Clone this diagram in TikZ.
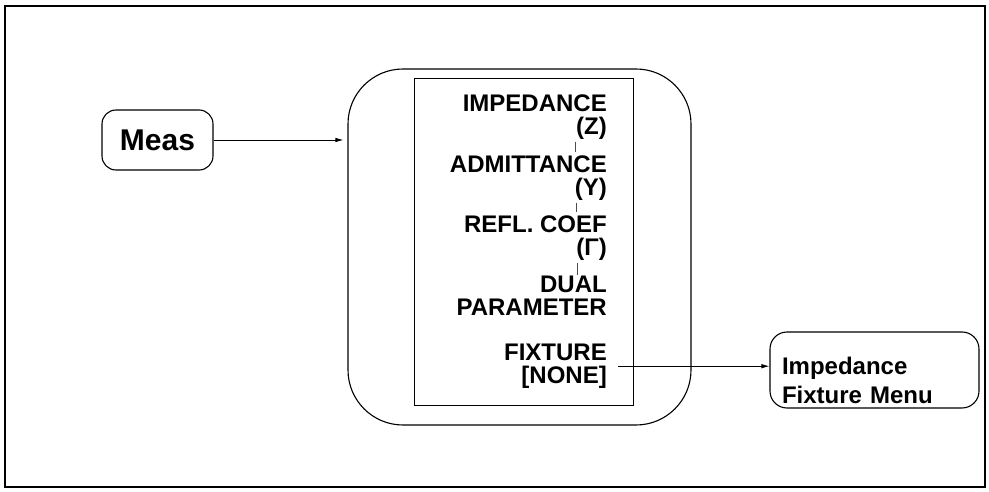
\documentclass[tikz,border=0pt]{standalone}
\usepackage{fontspec}
\setmainfont{Liberation Sans}
\usetikzlibrary{arrows.meta,positioning}

\begin{document}
\begin{tikzpicture}[
  x=1pt, y=1pt,
  font=\bfseries,
  >={Latex[length=8pt,width=4.5pt]},
  key/.style={rounded corners=14pt, draw=black, line width=1.1pt, inner sep=0pt},
  softkey/.style={align=right, anchor=north east, inner sep=0pt,
                  font=\bfseries\fontsize{24}{22.5}\selectfont},
  flow/.style={->, line width=0.8pt},
  tick/.style={line width=0.5pt, black!70},
]

\useasboundingbox (0,0) rectangle (989,491);

% ---------- Frame ----------
\draw[line width=2.6pt] (5,4) rectangle (985,485);

% ---------- Hardkey ----------
\node[key, minimum width=111pt, minimum height=60pt,
      font=\bfseries\fontsize{30}{36}\selectfont] (meas) at (157.5,351) {Meas};

% ---------- Softkey menu ----------
\node[draw, rounded corners=55pt, line width=1.1pt,
      minimum width=343pt, minimum height=356pt] (menu) at (519.5,244) {};
\node[draw, line width=1pt, minimum width=219pt, minimum height=326pt] (panel) at (523.5,249) {};

\node[softkey] (imp)  at (607,396) {IMPEDANCE\\(Z)};
\node[softkey] (adm)  at (607,335) {ADMITTANCE\\(Y)};
\node[softkey] (refl) at (607,275) {REFL. COEF\\(Γ)};
\node[softkey] (dual) at (607,215) {DUAL\\PARAMETER};
\node[softkey] (fix)  at (607,147) {FIXTURE\\{[NONE]}};

\draw[tick] ([xshift=-32pt,yshift=-2pt]imp.south east)  -- ++(0,-10);
\draw[tick] ([xshift=-31pt,yshift=-2pt]adm.south east)  -- ++(0,-9);
\draw[tick] ([xshift=-30pt,yshift=-2pt]refl.south east) -- ++(0,-12);

% ---------- Fixture submenu ----------
\node[key, rounded corners=17pt, minimum width=209pt, minimum height=76pt,
      inner xsep=12pt, text width=185pt, align=left, text depth=9pt,
      font=\bfseries\fontsize{24}{29}\selectfont] (fixmenu) at (874.5,121)
  {Impedance\\Fixture Menu};

% ---------- Connectors ----------
\draw[flow, shorten >=4pt] (meas.east) -- (meas.east -| menu.west);
\draw[flow] ([xshift=11pt]fix.east) -- (fix.east -| fixmenu.west);

\end{tikzpicture}
\end{document}
